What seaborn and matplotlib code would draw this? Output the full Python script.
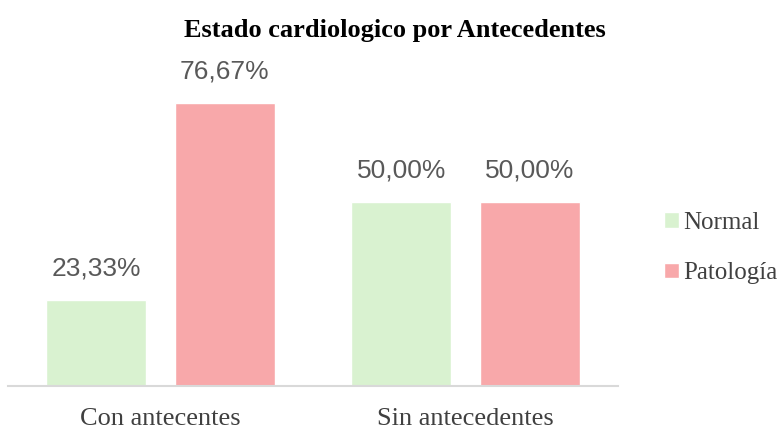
import matplotlib
matplotlib.use("Agg")
import matplotlib.pyplot as plt
import pandas as pd
import seaborn as sns

categories = ["Con antecentes", "Sin antecedentes"]
groups = ["Normal", "Patología"]
normal_pct = [23.33, 50.00]
patologia_pct = [76.67, 50.00]
colors = ["#d9f2d0", "#f8a8aa"]

df = pd.DataFrame({
    "cat": categories * 2,
    "grupo": [groups[0]] * 2 + [groups[1]] * 2,
    "pct": normal_pct + patologia_pct,
})

sns.set_style("white")
plt.rcParams["font.family"] = ["Liberation Serif", "DejaVu Serif"]

fig = plt.figure(figsize=(7.83, 4.32), dpi=100)
ax = fig.add_axes([0.0102, 0.1065, 0.779, 0.7685])

sns.barplot(data=df, x="cat", y="pct", hue="grupo", palette=colors,
            width=0.842, gap=0.22, ax=ax, saturation=1)

for cont in ax.containers:
    ax.bar_label(cont, labels=[f"{v:.2f}%".replace(".", ",") for v in cont.datavalues],
                 padding=14, fontsize=19, color="#595959",
                 family=["Liberation Sans", "DejaVu Sans"])

ax.set_xlim(-0.5, 1.5)
ax.set_ylim(0, 90)
ax.set_xlabel("")
ax.set_ylabel("")
ax.set_yticks([])
ax.tick_params(axis="x", length=0, pad=16, labelsize=19, labelcolor="#404040")
for side in ["top", "right", "left"]:
    ax.spines[side].set_visible(False)
ax.spines["bottom"].set_color("#d9d9d9")
ax.spines["bottom"].set_linewidth(1.5)

fig.suptitle("Estado cardiologico por Antecedentes", x=0.504, y=0.955,
             fontsize=19, fontweight="bold", color="black")

ax.legend(loc="center left", bbox_to_anchor=(1.038, 0.416), frameon=False,
          fontsize=18, handlelength=0.6, handleheight=0.6, handletextpad=0.2,
          labelspacing=1.15, labelcolor="#404040")

fig.savefig("out.png", dpi=100)
